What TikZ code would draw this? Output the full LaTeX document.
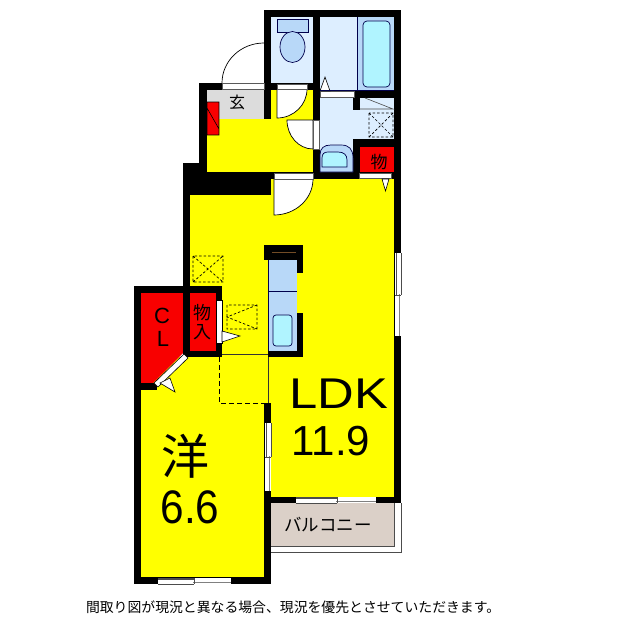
\documentclass[tikz,border=0pt]{standalone}
\usepackage{fontspec}
\setmainfont{Liberation Sans}
\newfontfamily\cjk{Noto Sans CJK JP}
\definecolor{roomy}{HTML}{FFFF00}
\definecolor{redc}{HTML}{F80000}
\definecolor{wetc}{HTML}{DDEEFF}
\definecolor{fixc}{HTML}{B8D8F8}
\definecolor{cyanc}{HTML}{B0F4FF}
\definecolor{genk}{HTML}{DCDCDC}
\definecolor{balc}{HTML}{DBD0C8}
\tikzset{
 wall/.style={fill=black,draw=none},
 room/.style={fill=roomy,draw=none},
 wet/.style={fill=wetc,draw=none},
 redbox/.style={fill=redc,draw=none},
 winbox/.style={fill=white,draw=gray!70!black,line width=.6pt},
 sashA/.style={draw=gray!60!black,line width=1.2pt},
 sashB/.style={draw=gray,line width=1.4pt},
 leaf/.style={fill=white,draw=black,line width=.7pt},
 fixt/.style={draw=black!70!blue,line width=.7pt},
 tri/.style={fill=white,draw=black,line width=.6pt},
 dashbox/.style={draw=black,line width=.7pt,dash pattern=on 2.5pt off 2pt},
 thin line/.style={draw=black!80,line width=.7pt},
 lbl/.style={inner sep=0pt,outer sep=0pt,text=black}
}
\newcommand\hwin[4]{% x0, xm, x1, ytop
 \fill[white] (#1,#4) rectangle (#3,#4+6);
 \draw[sashA] (#1,#4+1) -- (#2+1,#4+1);
 \draw[sashB] (#2-1,#4+4.5) -- (#3,#4+4.5);
 \draw[black!70,line width=.5pt] (#2,#4) -- (#2,#4+6);
 \draw[black!70,line width=.5pt] (#1,#4+6) -- (#2,#4+6);}
\newcommand\vwin[4]{% y0, ym, y1, xleft
 \fill[white] (#4,#1) rectangle (#4+6,#3);
 \draw[sashA] (#4+1.5,#1) -- (#4+1.5,#2+1);
 \draw[sashB] (#4+4.5,#2-1) -- (#4+4.5,#3);
 \draw[black!70,line width=.5pt] (#4,#2) -- (#4+6,#2);
 \draw[black!70,line width=.5pt] (#4+6,#1) -- (#4+6,#2);}
\begin{document}
\begin{tikzpicture}[x=1pt,y=-1pt]
\useasboundingbox (0,0) rectangle (640,640);
\fill[white] (0,0) rectangle (640,640);
% rooms
\fill[room] (190,179) rectangle (394,497);
\fill[room] (141,357) rectangle (264,577);
\fill[room] (207,90) rectangle (313,172);
\fill[wet] (271,17) rectangle (313,83);
\fill[wet] (320,17) rectangle (394,172);
\fill[genk] (207,90) rectangle (264,119);
\fill[redbox] (207,102) rectangle (219,135);
\draw[black,line width=.6pt] (207,102) rectangle (219,135) (207,108) -- (219,129);
\fill[balc] (271,503) rectangle (394,546);
% main walls
\fill[wall] (264,10) rectangle (401,17);
\fill[wall] (264,10) rectangle (271,119);
\fill[wall] (313,10) rectangle (320,179);
\fill[wall] (394,10) rectangle (401,503);
\fill[wall] (199,83) rectangle (264,90);
\fill[wall] (199,83) rectangle (207,172);
\fill[wall] (264,83) rectangle (320,90);
\fill[wall] (183,163) rectangle (199,195);
\fill[wall] (183,172) rectangle (394,179);
\fill[wall] (183,179) rectangle (271,195);
\fill[wall] (183,163) rectangle (190,286);
\fill[wall] (354,91) rectangle (394,98);
\fill[wall] (353,91) rectangle (360,110);
\fill[wall] (353,139) rectangle (394,147);
\fill[wall] (353,139) rectangle (360,179);
\fill[redbox] (360,147) rectangle (394,172);
% closets
\fill[redbox] (141,293) -- (183,293) -- (183,353) -- (153,383) -- (141,383) -- cycle;
\fill[redbox] (190,293) rectangle (216,351);
\fill[wall] (134,286) rectangle (222,293);
\fill[wall] (134,286) rectangle (141,584);
\fill[wall] (183,286) rectangle (190,357);
\fill[wall] (216,286) rectangle (222,357);
\fill[wall] (183,351) rectangle (222,357);
\fill[wall] (141,383) rectangle (157,390);
\fill[wall] (134,577) rectangle (271,584);
\fill[wall] (264,403) rectangle (271,584);
\fill[wall] (264,497) rectangle (401,503);
% balcony outline
\draw[black!70,line width=.7pt] (271,546) -- (394,546) -- (394,503);
\draw[black!70,line width=.7pt] (401,503) -- (401,552) -- (271,552);
% doors
\draw[black,line width=.7pt] (264,43) arc (270:180:42 and 40);
\draw[winbox] (222,83.5) rectangle (264,89);
\draw[leaf] (277,89) -- (277,118) arc (90:0:30 and 29) -- cycle;
\draw[winbox] (277,84) rectangle (307,89.5);
\draw[leaf] (287,120) arc (180:90:26 and 29) -- (313,120) -- cycle;
\draw[winbox] (313.5,120) rectangle (319.5,149);
\draw[leaf] (274,179) -- (274,215) arc (90:0:39 and 36) -- cycle;
\draw[winbox] (274,173) rectangle (313,179);
\draw[winbox] (359,173) rectangle (391,178.5);
\draw[tri] (382,179) -- (389,179) -- (385.5,191) -- cycle;
\draw[winbox] (320,91.5) rectangle (354,97);
\draw[tri] (320,91) -- (325,77) -- (330,91) -- cycle;
% bath fixtures
\fill[fixc] (357.5,17) rectangle (394,90);
\draw[fixt] (357,17) -- (357,90);
\draw[fixt,fill=cyanc,rounded corners=4pt] (363,21) rectangle (390,87);
\draw[fixt] (320,90) -- (394,90);
\draw[fixt,fill=fixc] (277,19) rectangle (308,32);
\draw[fixt,fill=fixc] (292.5,47) ellipse (12.5 and 15.5);
\draw[black!70,line width=.6pt] (365,98) -- (393,109) -- (360,109);
\draw[dashbox] (369,113) rectangle (393,137) (369,113) -- (393,137) (369,137) -- (393,113);
\draw[fixt,fill=fixc] (320,172) -- (320,155) .. controls (320,148) and (324,145) .. (331,145) -- (341,145) .. controls (349,145) and (353,149) .. (353,158) -- (353,172) -- cycle;
\draw[fixt,fill=cyanc] (322,167) -- (322,158) .. controls (322,154) and (324,152) .. (328,152) -- (338,152) .. controls (344,152) and (347,155) .. (347,160) -- (347,167) -- cycle;
% closet doors
\draw[winbox,line width=.8pt,draw=black] (216.5,300) rectangle (222,343);
\draw[tri] (222,331) -- (240,336) -- (222,342) -- cycle;
\fill[white,draw=black,line width=.6pt] (184,354) -- (188,358) -- (158,387) -- (154,383) -- cycle;
\draw[tri] (160,383) -- (170,378) -- (175,392) -- cycle;
% dashed boxes
\draw[dashbox] (193,256) rectangle (223,282) (193,256) -- (223,282) (193,282) -- (223,256);
\draw[dashbox] (227,305) rectangle (257,329) (257,305) -- (227,317) -- (257,329);
% kitchen
\fill[fixc] (268,260) rectangle (297,351);
\draw[fixt] (268,260) -- (268,351);
\draw[fixt] (268,291) -- (297,291);
\fill[wall] (264,245) rectangle (303,260);
\fill[wall] (297,245) rectangle (303,273);
\fill[wall] (297,313) rectangle (303,357);
\fill[wall] (268,351) rectangle (303,357);
\draw[black!40!brown,line width=.7pt] (272,252.5) -- (296,252.5);
\draw[fixt,fill=cyanc,rounded corners=3pt] (273,315) rectangle (292,346);
\draw[thin line] (222,354) -- (268,354) (268,357) -- (268,403);
\draw[draw=black,line width=.7pt,dash pattern=on 5pt off 3pt] (219,357) -- (219,403) -- (264,403);
% windows
\vwin{253}{295}{336}{395}
\vwin{423}{457}{491}{265}
\hwin{296}{337}{376}{497}
\hwin{158}{194}{231}{578}
% labels
\node[lbl,font=\cjk\fontsize{16}{16}\selectfont] (genkan) at (237,102) {玄};
\node[lbl,font=\cjk\fontsize{17}{17}\selectfont] (mono1) at (379,162) {物};
\node[lbl,font=\cjk\fontsize{18}{18}\selectfont] (mono2) at (202,313) {物};
\node[lbl,font=\cjk\fontsize{18}{18}\selectfont] (iri) at (202,332) {入};
\node[lbl,font=\fontsize{22}{22}\selectfont] (cl1) at (162,316) {C};
\node[lbl,font=\fontsize{22}{22}\selectfont] (cl2) at (163,339) {L};
\node[lbl,font=\fontsize{43}{43}\selectfont,xscale=1.18] (ldk) at (339,394) {LDK};
\node[lbl,font=\fontsize{42}{42}\selectfont] (ldkn) at (331,441) {11.9};
\node[lbl,font=\cjk\fontsize{48}{48}\selectfont] (you) at (185,456) {洋};
\node[lbl,font=\fontsize{47}{47}\selectfont,xscale=.9] (youn) at (190,507) {6.6};
\node[lbl,font=\cjk\fontsize{17.5}{17.5}\selectfont] (bal) at (328,525) {バルコニー};
\node[lbl,font=\cjk\fontsize{13.85}{13.85}\selectfont,anchor=west] (note) at (86,607) {間取り図が現況と異なる場合、現況を優先とさせていただきます。};
\end{tikzpicture}
\end{document}
